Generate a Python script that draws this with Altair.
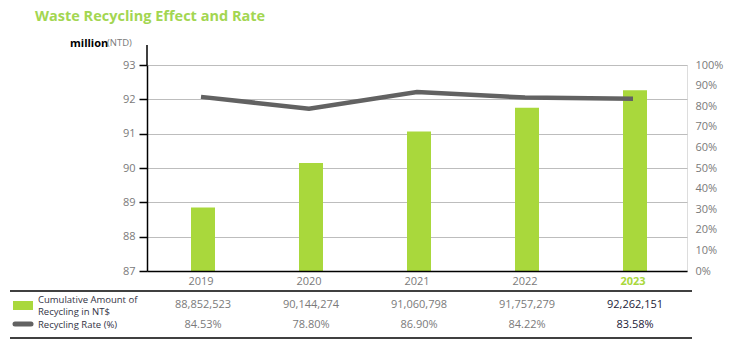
import altair as alt
import pandas as pd

# ---------------- data ----------------
years = ["2019", "2020", "2021", "2022", "2023"]
amounts = [88852523, 90144274, 91060798, 91757279, 92262151]
rates = [0.8453, 0.7880, 0.8690, 0.8422, 0.8358]
left_ticks = [87, 88, 89, 90, 91, 92, 93]
right_ticks = [0, 0.1, 0.2, 0.3, 0.4, 0.5, 0.6, 0.7, 0.8, 0.9, 1.0]

df = pd.DataFrame({
    "year": years,
    "amount": amounts,
    "amount_m": [a / 1e6 for a in amounts],
    "rate": rates,
})

FONT = "Open Sans"
GREEN = "#a9d83c"
TITLE_GREEN = "#a3d651"
GRAY = "#7a7a7a"
LINE = "#626262"
DARK = "#222238"

W, H = 540, 206

base = alt.Chart(df)

x_enc = alt.X(
    "year:N", sort=years,
    scale=alt.Scale(paddingInner=0, paddingOuter=0),
    axis=alt.Axis(
        title=None, labelAngle=0, ticks=False, domainColor="black",
        domainWidth=1.5, labelFontSize=11, labelPadding=4, labelFont=FONT,
        labelColor=alt.expr("datum.value == '2023' ? '%s' : '%s'" % (GREEN, GRAY)),
        labelFontWeight=alt.expr("datum.value == '2023' ? 'bold' : 'normal'"),
        zindex=2,
    ),
)

bars = base.mark_bar(width=24, color=GREEN, clip=True, xOffset=2).encode(
    x=x_enc,
    y=alt.Y(
        "amount_m:Q",
        scale=alt.Scale(domain=[87, 93], zero=False, nice=False),
        axis=alt.Axis(
            title=None, values=left_ticks, format="d", grid=True,
            gridColor="#bdbdbd", gridWidth=1.2, domainColor="black",
            domainWidth=1.5, tickColor="black", tickSize=8, tickWidth=1.5,
            labelColor=GRAY, labelFontSize=11, labelPadding=4, labelFont=FONT,
        ),
    ),
)

line = base.mark_line(color=LINE, strokeWidth=4.5).encode(
    x=alt.X("year:N", sort=years),
    y=alt.Y(
        "rate:Q",
        scale=alt.Scale(domain=[0, 1], nice=False),
        axis=alt.Axis(
            orient="right", title=None, values=right_ticks, format=".0%",
            grid=False, domain=False, ticks=False, labelColor=GRAY,
            labelFontSize=11, labelPadding=8, labelFont=FONT,
        ),
    ),
)

color_cond = alt.condition(alt.datum.year == "2023", alt.value(DARK), alt.value(GRAY))

amount_txt = base.mark_text(font=FONT, fontSize=11, baseline="middle", dx=2).encode(
    x=alt.X("year:N", sort=years),
    y=alt.value(H + 34),
    text=alt.Text("amount:Q", format=","),
    color=color_cond,
)
rate_txt = base.mark_text(font=FONT, fontSize=11, baseline="middle", dx=2).encode(
    x=alt.X("year:N", sort=years),
    y=alt.value(H + 54),
    text=alt.Text("rate:Q", format=".2%"),
    color=color_cond,
)

one = alt.Chart(pd.DataFrame({"a": [0]}))

title = one.mark_text(text="Waste Recycling Effect and Rate", font=FONT, fontSize=14.5,
                      fontWeight="bold", color=TITLE_GREEN, align="left",
                      baseline="middle").encode(x=alt.value(-112), y=alt.value(-48))
unit1 = one.mark_text(text="million", font=FONT, fontSize=11, fontWeight="bold",
                      color="black", align="left", baseline="middle").encode(
    x=alt.value(-77), y=alt.value(-21))
unit2 = one.mark_text(text="(NTD)", font=FONT, fontSize=9.5, color=GRAY,
                      align="left", baseline="middle").encode(
    x=alt.value(-40), y=alt.value(-22))
axis_ext = one.mark_rule(color="black", strokeWidth=1.5).encode(
    x=alt.value(0), y=alt.value(-20), y2=alt.value(0))
top_rule = one.mark_rule(color="black", strokeWidth=1.5).encode(
    x=alt.value(-137), x2=alt.value(545), y=alt.value(H + 20))
bot_rule = one.mark_rule(color="black", strokeWidth=1.5).encode(
    x=alt.value(-137), x2=alt.value(545), y=alt.value(H + 67))
leg_rect = one.mark_rect(color=GREEN).encode(
    x=alt.value(-134), x2=alt.value(-114), y=alt.value(H + 30), y2=alt.value(H + 39))
leg_line = one.mark_rule(color=LINE, strokeWidth=5, strokeCap="round").encode(
    x=alt.value(-132), x2=alt.value(-116), y=alt.value(H + 53))
LEG_FS = 9.5
leg_t1 = one.mark_text(text="Cumulative Amount of", font=FONT, fontSize=LEG_FS,
                       color="#333344", align="left", baseline="middle").encode(
    x=alt.value(-109), y=alt.value(H + 28.5))
leg_t2 = one.mark_text(text="Recycling in NT$", font=FONT, fontSize=LEG_FS,
                       color="#333344", align="left", baseline="middle").encode(
    x=alt.value(-109), y=alt.value(H + 40.5))
leg_t3 = one.mark_text(text="Recycling Rate (%)", font=FONT, fontSize=LEG_FS,
                       color="#333344", align="left", baseline="middle").encode(
    x=alt.value(-109), y=alt.value(H + 54))

chart = alt.layer(
    bars, line, amount_txt, rate_txt, title, unit1, unit2, axis_ext,
    top_rule, bot_rule, leg_rect, leg_line, leg_t1, leg_t2, leg_t3,
).resolve_scale(y="independent").properties(
    width=W, height=H,
    autosize=alt.AutoSizeParams(type="none"),
    padding={"left": 147, "top": 65, "right": 47, "bottom": 84},
).configure_view(stroke=None).configure(background="white")

chart.save("out.html", embed_options={"renderer": "svg", "actions": False})
